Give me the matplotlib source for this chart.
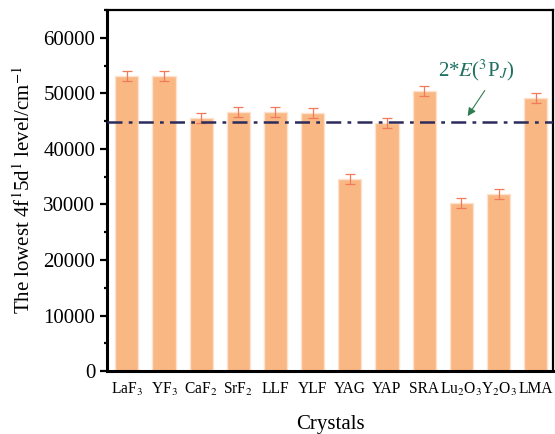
import numpy as np
import matplotlib
matplotlib.use("Agg")
from matplotlib import pyplot as plt
from matplotlib.ticker import MultipleLocator

plt.rcParams['font.family'] = ['Liberation Serif', 'DejaVu Serif']
plt.rcParams['mathtext.fontset'] = 'stix'

# lowest 4f5d level of each host crystal
crystals = ['LaF$_3$', 'YF$_3$', 'CaF$_2$', 'SrF$_2$', 'LLF', 'YLF', 'YAG',
            'YAP', 'SRA', 'Lu$_2$O$_3$', 'Y$_2$O$_3$', 'LMA']
levels = [53100, 53200, 45600, 46700, 46700, 46400, 34600,
          44700, 50500, 30200, 31900, 49200]
errors = [900, 900, 900, 900, 900, 900, 900,
          900, 900, 900, 900, 900]
two_E_3PJ = 44800

fig = plt.figure(figsize=(5.55, 4.34), dpi=100)
ax = fig.add_axes([0.193, 0.145, 0.803, 0.832])

x = np.arange(len(crystals))
ax.bar(x, levels, width=0.62, color='#f9b783', edgecolor='#fde3cf', linewidth=1.0, zorder=2)
ax.errorbar(x, levels, yerr=errors, fmt='none', ecolor='#f07a5a', elinewidth=0.9,
            capsize=3.5, capthick=0.9, zorder=3)

ax.axhline(two_E_3PJ, color='#2c2c5c', linestyle=(0, (6, 2.5, 1.5, 2.5)), linewidth=1.8, zorder=4)

# label for the 2E(3PJ) line and its pointer
ax.text(9.39, 51900, r'2*$E$($^3$P$_J$)', color='#1f7060', fontsize=15,
        ha='center', va='bottom')
ax.annotate('', xy=(9.17, 45900), xytext=(9.63, 50500),
            arrowprops=dict(arrowstyle='-|>', color='#2e7d50', lw=0.8, mutation_scale=12,
                            shrinkA=0, shrinkB=0))

ax.set_xlim(-0.53, 11.46)
ax.set_ylim(0, 65000)
ax.set_xticks(x)
ax.set_xticklabels(crystals, fontsize=11.2)
ax.yaxis.set_major_locator(MultipleLocator(10000))
ax.yaxis.set_minor_locator(MultipleLocator(5000))
ax.tick_params(axis='y', which='major', direction='out', length=5, width=1.6, labelsize=15)
ax.tick_params(axis='y', which='minor', direction='out', length=2.5, width=1.6)
ax.tick_params(axis='x', which='major', direction='in', length=4, width=1.6, pad=7)

for side in ['left', 'bottom']:
    ax.spines[side].set_linewidth(2.2)
for side in ['top', 'right']:
    ax.spines[side].set_linewidth(1.6)

ax.set_xlabel('Crystals', fontsize=15, labelpad=12)
ax.set_ylabel('The lowest 4f$^1$5d$^1$ level/cm$^{-1}$', fontsize=15, labelpad=6)

fig.savefig('out.png', dpi=100)
